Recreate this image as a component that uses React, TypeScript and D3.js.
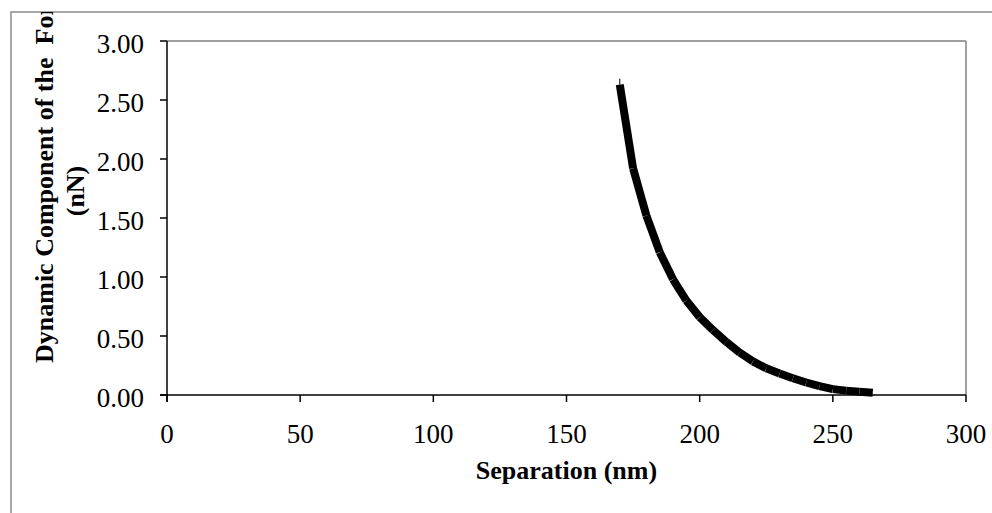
import React from "react";
import * as d3 from "d3";

// separation (nm) and dynamic force component (nN)
const separation = [170, 175, 180, 185, 190, 195, 200, 205, 210, 215, 220, 225, 230, 235, 240, 245, 250, 255, 260, 265];
const force = [2.63, 1.92, 1.52, 1.21, 0.98, 0.8, 0.66, 0.55, 0.45, 0.36, 0.285, 0.226, 0.182, 0.142, 0.106, 0.075, 0.05, 0.037, 0.028, 0.02];

const xTicks = [0, 50, 100, 150, 200, 250, 300];
const yTicks = [0, 0.5, 1, 1.5, 2, 2.5, 3];

const W = 992,
    H = 513;
const m = { left: 167, top: 41, right: 966, bottom: 395 };
const font = "'Liberation Serif', 'Times New Roman', serif";

const App = () => {
    const x = d3.scaleLinear().domain([0, 300]).range([m.left, m.right]);
    const y = d3.scaleLinear().domain([0, 3]).range([m.bottom, m.top]);

    const pts: [number, number][] = separation.map((s, i) => [x(s), y(force[i])]);
    const line = d3.line();

    // each segment drawn on its own, like the original export
    const segs = pts.slice(1).map((p, i) => line([pts[i], p]) as string);

    return (
        <svg width={W} height={H} style={{ position: "absolute", left: 0, top: 0, background: "#fff" }}>
            <defs>
                <clipPath id="frameClip">
                    <rect x={11} y={12} width={W} height={H} />
                </clipPath>
            </defs>

            {/* outer chart frame */}
            <rect x={11} y={12} width={W + 20} height={H + 20} fill="none" stroke="#8c8c8c" strokeWidth={1.5} />

            {/* plot area top/right border */}
            <line x1={m.left} x2={m.right} y1={m.top} y2={m.top} stroke="#808080" strokeWidth={1.5} />
            <line x1={m.right} x2={m.right} y1={m.top} y2={m.bottom} stroke="#808080" strokeWidth={1.5} />

            {/* y axis */}
            <line x1={m.left} x2={m.left} y1={m.top} y2={m.bottom + 7} stroke="#000" strokeWidth={1.5} />
            {yTicks.map((t) => (
                <g key={"y" + t}>
                    <line x1={m.left - 7} x2={m.left} y1={y(t)} y2={y(t)} stroke="#000" strokeWidth={1.5} />
                    <text x={144} y={y(t) + 12} textAnchor="end" fontFamily={font} fontSize={27} fill="#000">
                        {t.toFixed(2)}
                    </text>
                </g>
            ))}

            {/* x axis */}
            <line x1={m.left - 7} x2={m.right} y1={m.bottom} y2={m.bottom} stroke="#000" strokeWidth={1.5} />
            {xTicks.map((t) => (
                <g key={"x" + t}>
                    <line x1={x(t)} x2={x(t)} y1={m.bottom} y2={m.bottom + 7} stroke="#000" strokeWidth={1.5} />
                    <text x={x(t)} y={443} textAnchor="middle" fontFamily={font} fontSize={27} fill="#000">
                        {t}
                    </text>
                </g>
            ))}

            {/* curve */}
            {segs.map((d, i) => (
                <path key={i} d={d} fill="none" stroke="#000" strokeWidth={8} strokeLinecap="butt" />
            ))}
            <line x1={pts[0][0]} x2={pts[0][0]} y1={pts[0][1] - 6} y2={pts[0][1]} stroke="#000" strokeWidth={1} />

            {/* axis titles */}
            <text x={(m.left + m.right) / 2} y={479} textAnchor="middle" fontFamily={font} fontSize={26} fontWeight="bold" fill="#000">
                Separation (nm)
            </text>
            <g clipPath="url(#frameClip)">
                <text
                    transform="translate(53,363) rotate(-90)"
                    textAnchor="start"
                    fontFamily={font}
                    fontSize={26}
                    fontWeight="bold"
                    fill="#000"
                    style={{ whiteSpace: "pre" }}
                >
                    Dynamic Component of the{"\u00a0"} Force
                </text>
                <text transform="translate(84,191) rotate(-90)" textAnchor="middle" fontFamily={font} fontSize={26} fontWeight="bold" fill="#000">
                    (nN)
                </text>
            </g>
        </svg>
    );
};

export default App;
